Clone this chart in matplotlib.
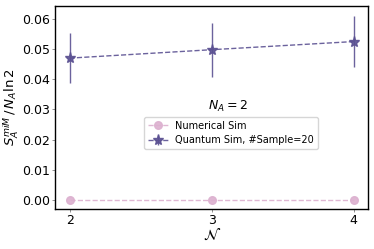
import matplotlib
matplotlib.use("Agg")
import matplotlib.pyplot as plt

# data
n_vals = [2, 3, 4]
numerical = [0.0, 0.0, 0.0]
quantum = [0.0470, 0.0498, 0.0525]
quantum_err = [0.0082, 0.0090, 0.0085]

pink = "#dcb0cf"
purple = "#5b5192"

fig, ax = plt.subplots(figsize=(3.74, 2.49), dpi=100)
fig.subplots_adjust(left=0.148, right=0.984, top=0.976, bottom=0.161)

ax.plot(n_vals, numerical, linestyle="--", color=pink, marker="o",
        markersize=5.5, linewidth=1, alpha=0.9, label="Numerical Sim")
ax.errorbar(n_vals, quantum, yerr=quantum_err, linestyle="--", color=purple,
            marker="*", markersize=8, linewidth=1, elinewidth=1,
            alpha=0.9, label="Quantum Sim, #Sample=20")

ax.set_xlim(1.9, 4.1)
ax.set_ylim(-0.003, 0.0643)
ax.set_xticks(n_vals)
ax.tick_params(labelsize=9, length=2.5, pad=1.5, width=0.6, color="0.5")
for s in ax.spines.values():
    s.set_linewidth(1.0)
ax.set_xlabel(r"$\mathcal{N}$", fontsize=11, labelpad=0)
ax.set_ylabel(r"$S_A^{miM}\,/\,N_A\ln2$", fontsize=9.5, labelpad=0.5)
ax.text(0.553, 0.507, r"$N_A=2$", transform=ax.transAxes, ha="center",
        va="center", fontsize=9)
ax.legend(loc="center", bbox_to_anchor=(0.562, 0.374), fontsize=7,
          framealpha=0.8)

fig.savefig("out.png", dpi=100)
